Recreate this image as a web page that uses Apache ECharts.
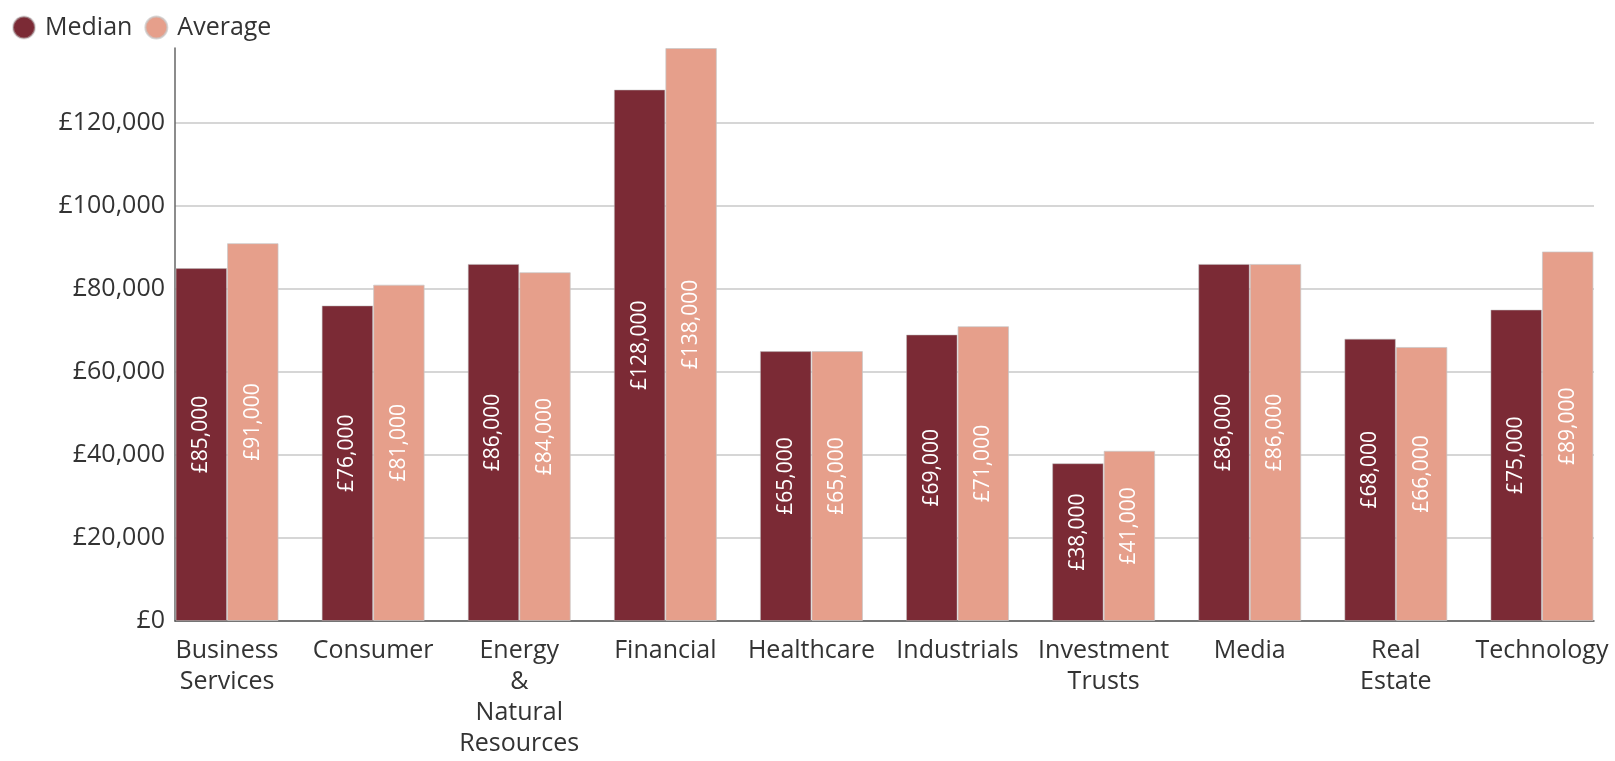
<!DOCTYPE html>
<html>
<head>
<meta charset="utf-8">
<script src="https://cdn.jsdelivr.net/npm/echarts@6/dist/echarts.min.js"></script>
<style>
html,body{margin:0;padding:0;background:#fff;}
#chart{width:1615px;height:761px;}
</style>
</head>
<body>
<div id="chart"></div>
<script>
var categories = ["Business\nServices", "Consumer", "Energy\n&\nNatural\nResources", "Financial", "Healthcare", "Industrials", "Investment\nTrusts", "Media", "Real\nEstate", "Technology"];
var medianValues = [85000, 76000, 86000, 128000, 65000, 69000, 38000, 86000, 68000, 75000];
var averageValues = [91000, 81000, 84000, 138000, 65000, 71000, 41000, 86000, 66000, 89000];
var seriesNames = ["Median", "Average"];
var yTicks = [0, 20000, 40000, 60000, 80000, 100000, 120000];
var yMax = 138000;

var FONT = "'Open Sans', 'Noto Sans', sans-serif";
var TEXT = '#333333';
function money(v) {
  return '£' + Number(v).toLocaleString('en-GB');
}
var chart = echarts.init(document.getElementById('chart'), null, {renderer: 'canvas'});
var labelCfg = {
  show: true,
  position: 'inside',
  rotate: 90,
  offset: [10, 0],
  color: '#ffffff',
  fontFamily: FONT,
  fontSize: 21,
  formatter: function (p) { return money(p.value); }
};
var option = {
  animation: false,
  textStyle: {fontFamily: FONT},
  legend: {
    left: 7, top: 10,
    icon: 'circle',
    itemWidth: 32, itemHeight: 22,
    itemGap: 12,
    textStyle: {fontFamily: FONT, fontSize: 25, color: TEXT},
    data: seriesNames
  },
  grid: [
    {left: 175, right: 21, top: 48, bottom: 140},
    {left: 154, right: 0, top: 48, bottom: 140}
  ],
  xAxis: [
    {
      type: 'category', gridIndex: 0, data: categories,
      axisLine: {show: true, lineStyle: {color: '#555555', width: 1.5}},
      axisTick: {show: false}, axisLabel: {show: false}, splitLine: {show: false}
    },
    {
      type: 'category', gridIndex: 1, data: categories,
      axisLine: {show: false}, axisTick: {show: false},
      axisLabel: {
        show: true, interval: 0, margin: 14,
        fontFamily: FONT, fontSize: 25, lineHeight: 31, color: TEXT, align: 'center'
      }
    }
  ],
  yAxis: [
    {
      type: 'value', gridIndex: 0, min: 0, max: yMax, interval: 20000,
      axisLine: {show: true, lineStyle: {color: '#666666', width: 1.5}},
      axisTick: {show: false},
      axisLabel: {
        show: true, margin: 10, showMaxLabel: false,
        fontFamily: FONT, fontSize: 25, color: TEXT,
        formatter: function (v) { return yTicks.indexOf(v) >= 0 ? money(v) : ''; }
      },
      splitLine: {show: true, showMaxLine: false, lineStyle: {color: '#c8c8c8', width: 1.5}}
    },
    {
      type: 'value', gridIndex: 1, min: 0, max: yMax, interval: 20000,
      show: false, splitLine: {show: false}
    }
  ],
  series: [
    {
      name: seriesNames[0], type: 'bar', xAxisIndex: 1, yAxisIndex: 1,
      data: medianValues, barWidth: 51.5, barGap: '0%',
      itemStyle: {color: '#7b2a35', borderColor: 'rgba(190,190,190,0.5)', borderWidth: 1},
      label: labelCfg
    },
    {
      name: seriesNames[1], type: 'bar', xAxisIndex: 1, yAxisIndex: 1,
      data: averageValues, barWidth: 51.5, barGap: '0%',
      itemStyle: {color: '#e69f8b', borderColor: 'rgba(200,200,200,0.7)', borderWidth: 1},
      label: labelCfg
    }
  ]
};
chart.setOption(option);
</script>
</body>
</html>
